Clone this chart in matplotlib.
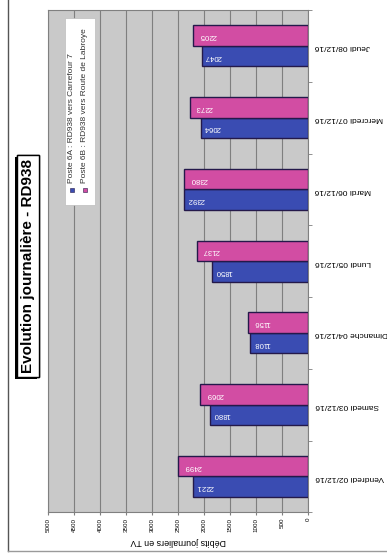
import numpy as np
import matplotlib
matplotlib.use("Agg")
import matplotlib.pyplot as plt
import matplotlib.patheffects as pe
from matplotlib.lines import Line2D
from matplotlib.patches import Rectangle

plt.rcParams['font.family'] = ['Liberation Sans', 'DejaVu Sans']

# donnees
jours = ["Vendredi 02/12/16", "Samedi 03/12/16", "Dimanche 04/12/16", "Lundi 05/12/16",
         "Mardi 06/12/16", "Mercredi 07/12/16", "Jeudi 08/12/16"]
poste_6a = [2221, 1880, 1108, 1850, 2392, 2064, 2047]
poste_6b = [2499, 2069, 1156, 2137, 2380, 2273, 2205]
noms = ["Poste 6A : RD938 vers Carrefour 7", "Poste 6B : RD938 vers Route de Labroye"]
titre = "Evolution journalière - RD938"
label_x = "Débits journaliers en TV"

bleu = "#3a4cb2"
rose = "#d24da3"
bord = "#24194a"

fig = plt.figure(figsize=(3.87, 5.58), dpi=100)
ax = fig.add_axes([0.124, 0.082, 0.672, 0.900])
ax.set_facecolor("#c9c9c9")

y = np.arange(len(jours))
h = 0.285
ax.barh(y - h / 2, poste_6a, height=h, color=bleu, edgecolor=bord, linewidth=1.0, zorder=3)
ax.barh(y + h / 2, poste_6b, height=h, color=rose, edgecolor=bord, linewidth=1.0, zorder=3)

# etiquettes de valeurs dans les barres
for yi, v in zip(y, poste_6a):
    ax.text(v - 60, yi - h / 2, str(v), rotation=180, ha="left", va="center",
            color="white", fontsize=5.6, zorder=4)
for yi, v in zip(y, poste_6b):
    ax.text(v - 110, yi + h / 2, str(v), rotation=180, ha="left", va="center",
            color="white", fontsize=5.6, zorder=4)

ax.set_xlim(5000, 0)
ax.set_ylim(-0.5, len(jours) - 0.5)
ax.set_xticks(np.arange(0, 5001, 500))
ax.set_xticklabels([str(t) for t in range(0, 5001, 500)], rotation=90, fontsize=4.5)
ax.xaxis.grid(True, color="#7f7f7f", linewidth=0.8, zorder=0)
ax.set_axisbelow(True)
ax.tick_params(axis="x", length=2, color="#7f7f7f", pad=2)

ax.yaxis.tick_right()
ax.set_yticks(y)
ax.set_yticklabels(jours, rotation=180, fontsize=6)
ax.tick_params(axis="y", length=0, pad=5)
ax.set_yticks(np.arange(-0.5, len(jours), 1), minor=True)
ax.tick_params(axis="y", which="minor", length=3, color="#7f7f7f")

ax.set_xlabel(label_x, rotation=180, fontsize=6.4, labelpad=4)
for s in ax.spines.values():
    s.set_color("#808080")
    s.set_linewidth(0.8)

# legende (tournee)
ax.add_patch(Rectangle((0.065, 0.612), 0.116, 0.372, transform=ax.transAxes,
                       facecolor="white", edgecolor="#bdbdbd", linewidth=0.5, zorder=5))
for xi, nom, c in [(0.092, noms[0], bleu), (0.142, noms[1], rose)]:
    ax.plot([xi], [0.642], marker="s", markersize=3, color=c, markeredgecolor=bord,
            markeredgewidth=0.4, transform=ax.transAxes, zorder=6, clip_on=False)
    ax.text(xi, 0.655, nom, rotation=90, ha="center", va="bottom", fontsize=6,
            color="#333333", transform=ax.transAxes, zorder=6)

# titre
t = fig.text(0.073, 0.523, titre, rotation=90, ha="center", va="center",
             fontsize=11, fontweight="bold",
             bbox=dict(boxstyle="square,pad=0.25", facecolor="white",
                       edgecolor="black", linewidth=1))
t.get_bbox_patch().set_path_effects([pe.withSimplePatchShadow(offset=(-1.5, -1.5),
                                                               shadow_rgbFace="black", alpha=1),
                                     pe.Normal()])

# cadre
fig.add_artist(Line2D([8 / 387, 8 / 387], [1, 1 - 551 / 558], color="#555555", linewidth=1))
fig.add_artist(Line2D([8 / 387, 1], [1 - 551 / 558, 1 - 551 / 558], color="#9a9a9a", linewidth=1))

fig.savefig("out.png", dpi=100)
